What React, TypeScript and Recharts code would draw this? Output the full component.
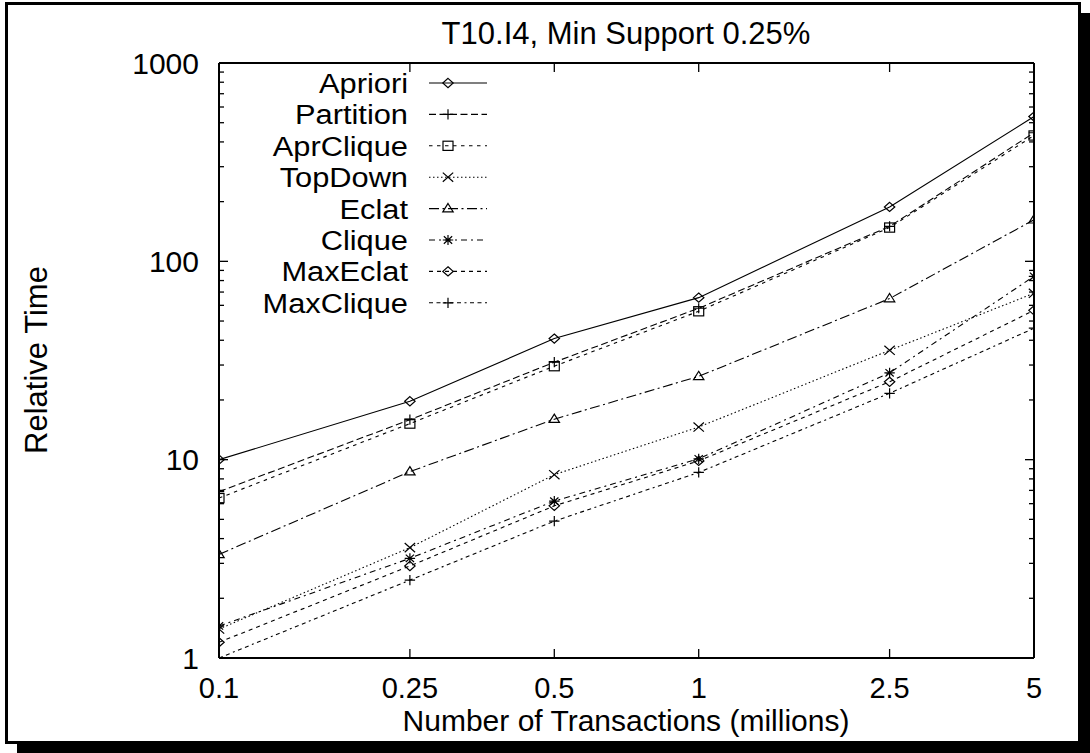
import React from 'react';
import { LineChart, Line, XAxis, YAxis } from 'recharts';

// Number of transactions (millions)
const TRANSACTIONS = [0.1, 0.25, 0.5, 1, 2.5, 5];

// Relative running time of each algorithm
const APRIORI = [10, 19.7, 40.8, 65.6, 188, 537];
const PARTITION = [6.9, 15.9, 31, 58, 150, 445];
const APR_CLIQUE = [6.4, 15.2, 29.6, 56, 148, 431];
const TOP_DOWN = [1.4, 3.6, 8.4, 14.6, 35.6, 69];
const ECLAT = [3.33, 8.7, 16.0, 26.3, 64.9, 162];
const CLIQUE = [1.45, 3.18, 6.18, 10.1, 27.4, 84];
const MAX_ECLAT = [1.2, 2.91, 5.85, 9.86, 24.7, 56.6];
const MAX_CLIQUE = [1.0, 2.47, 4.9, 8.62, 21.6, 46];

const X_TICKS = [0.1, 0.25, 0.5, 1, 2.5, 5];
const X_TICK_LABELS = ['0.1', '0.25', '0.5', '1', '2.5', '5'];
const Y_MAJOR = [1, 10, 100, 1000];
const Y_MAJOR_LABELS = ['1', '10', '100', '1000'];

const TITLE = 'T10.I4, Min Support 0.25%';
const X_LABEL = 'Number of Transactions (millions)';
const Y_LABEL = 'Relative Time';

type Shape = 'diamond' | 'plus' | 'square' | 'cross' | 'triangle' | 'star';

const SERIES: { name: string; values: number[]; dash?: string; shape: Shape }[] = [
  { name: 'Apriori', values: APRIORI, dash: undefined, shape: 'diamond' },
  { name: 'Partition', values: PARTITION, dash: '7 3.5', shape: 'plus' },
  { name: 'AprClique', values: APR_CLIQUE, dash: '3.5 4.5', shape: 'square' },
  { name: 'TopDown', values: TOP_DOWN, dash: '1.5 2.5', shape: 'cross' },
  { name: 'Eclat', values: ECLAT, dash: '10 3.5 2 3.5', shape: 'triangle' },
  { name: 'Clique', values: CLIQUE, dash: '6 4 2 4', shape: 'star' },
  { name: 'MaxEclat', values: MAX_ECLAT, dash: '4 4', shape: 'diamond' },
  { name: 'MaxClique', values: MAX_CLIQUE, dash: '4 3.5 4 3.5 2 3.5', shape: 'plus' },
];

// minor log ticks 1..9 per decade plus the top of the range
const Y_TICKS: number[] = [];
[1, 10, 100].forEach((d) => {
  for (let k = 1; k < 10; k++) Y_TICKS.push(d * k);
});
Y_TICKS.push(1000);

const rows = TRANSACTIONS.map((x, i) => {
  const r: Record<string, number> = { x };
  SERIES.forEach((s) => {
    r[s.name] = s.values[i];
  });
  return r;
});

const FONT = '"Liberation Sans", Arial, Helvetica, sans-serif';
const INK = '#000';

function Marker({ shape, cx, cy }: { shape: Shape; cx: number; cy: number }) {
  const sx = 5.2;
  const sy = 4.6;
  const common = { fill: 'none', stroke: INK, strokeWidth: 1.2 };
  switch (shape) {
    case 'diamond':
      return <path d={`M${cx} ${cy - sy}L${cx + sx} ${cy}L${cx} ${cy + sy}L${cx - sx} ${cy}Z`} {...common} />;
    case 'plus':
      return <path d={`M${cx - sx} ${cy}H${cx + sx}M${cx} ${cy - sy - 0.5}V${cy + sy + 0.5}`} {...common} />;
    case 'square':
      return <rect x={cx - 5} y={cy - 4.6} width={10} height={9.2} {...common} />;
    case 'cross':
      return <path d={`M${cx - sx} ${cy - sy}L${cx + sx} ${cy + sy}M${cx + sx} ${cy - sy}L${cx - sx} ${cy + sy}`} {...common} />;
    case 'triangle':
      return <path d={`M${cx} ${cy - sy - 0.5}L${cx + sx} ${cy + sy * 0.7}L${cx - sx} ${cy + sy * 0.7}Z`} {...common} />;
    case 'star':
      return (
        <path
          d={`M${cx - sx} ${cy}H${cx + sx}M${cx} ${cy - sy - 0.5}V${cy + sy + 0.5}M${cx - sx * 0.8} ${cy - sy * 0.8}L${cx + sx * 0.8} ${cy + sy * 0.8}M${cx + sx * 0.8} ${cy - sy * 0.8}L${cx - sx * 0.8} ${cy + sy * 0.8}`}
          {...common}
        />
      );
  }
  return null;
}

function XTick(props: any) {
  const { x, y, payload, side } = props;
  const idx = X_TICKS.indexOf(payload.value);
  if (side === 'top') {
    return <line x1={x} x2={x} y1={y} y2={y + 9} stroke={INK} strokeWidth={1.3} />;
  }
  return (
    <g>
      <line x1={x} x2={x} y1={y} y2={y - 9} stroke={INK} strokeWidth={1.3} />
      <text x={x} y={y + 39.5} textAnchor="middle" fontFamily={FONT} fontSize={29} fill={INK}>
        {idx >= 0 ? X_TICK_LABELS[idx] : ''}
      </text>
    </g>
  );
}

function YTick(props: any) {
  const { x, y, payload, side } = props;
  const majorIdx = Y_MAJOR.indexOf(payload.value);
  const len = majorIdx >= 0 ? 9 : 5;
  if (side === 'right') {
    return <line x1={x} x2={x - len} y1={y} y2={y} stroke={INK} strokeWidth={1.3} />;
  }
  return (
    <g>
      <line x1={x} x2={x + len} y1={y} y2={y} stroke={INK} strokeWidth={1.3} />
      {majorIdx >= 0 && (
        <text x={x - 20} y={y + 10.5} textAnchor="end" fontFamily={FONT} fontSize={30} fill={INK}>
          {Y_MAJOR_LABELS[majorIdx]}
        </text>
      )}
    </g>
  );
}

const axisLine = { stroke: INK, strokeWidth: 2 };

export default function App() {
  return (
    <div style={{ position: 'absolute', left: 0, top: 0, width: 1090, height: 753, background: '#fff', overflow: 'hidden' }}>
      {/* page frame with drop shadow */}
      <svg width={1090} height={753} style={{ position: 'absolute', left: 0, top: 0 }}>
        <rect x={17} y={13} width={1073} height={740} fill={INK} />
        <rect x={6.5} y={3.5} width={1073} height={739} fill="#fff" stroke={INK} strokeWidth={3} />
      </svg>

      <div style={{ position: 'absolute', left: 0, top: 0 }}>
        <LineChart width={1090} height={753} data={rows} margin={{ top: 0, right: 0, bottom: 0, left: 0 }}>
          <XAxis
            xAxisId="bottom"
            dataKey="x"
            type="number"
            scale="log"
            domain={[0.1, 5]}
            allowDataOverflow
            ticks={X_TICKS}
            interval={0}
            orientation="bottom"
            height={95}
            tickSize={0}
            tickMargin={0}
            tick={<XTick side="bottom" />}
            axisLine={axisLine}
          />
          <XAxis
            xAxisId="top"
            dataKey="x"
            type="number"
            scale="log"
            domain={[0.1, 5]}
            allowDataOverflow
            ticks={X_TICKS}
            interval={0}
            orientation="top"
            height={63}
            tickSize={0}
            tickMargin={0}
            tick={<XTick side="top" />}
            axisLine={axisLine}
          />
          <YAxis
            yAxisId="left"
            type="number"
            scale="log"
            domain={[1, 1000]}
            allowDataOverflow
            ticks={Y_TICKS}
            interval={0}
            orientation="left"
            width={219}
            tickSize={0}
            tickMargin={0}
            tick={<YTick side="left" />}
            axisLine={axisLine}
          />
          <YAxis
            yAxisId="right"
            type="number"
            scale="log"
            domain={[1, 1000]}
            allowDataOverflow
            ticks={Y_TICKS}
            interval={0}
            orientation="right"
            width={56}
            tickSize={0}
            tickMargin={0}
            tick={<YTick side="right" />}
            axisLine={axisLine}
          />
          {SERIES.map((s) => (
            <Line
              key={s.name}
              xAxisId="bottom"
              yAxisId="left"
              dataKey={s.name}
              type="linear"
              stroke={INK}
              strokeWidth={1.1}
              strokeDasharray={s.dash}
              isAnimationActive={false}
              dot={(p: any) => <Marker key={`${s.name}-${p.index}`} shape={s.shape} cx={p.cx} cy={p.cy} />}
              activeDot={false}
            />
          ))}
        </LineChart>
      </div>

      {/* title, axis titles and key */}
      <svg width={1090} height={753} style={{ position: 'absolute', left: 0, top: 0, pointerEvents: 'none' }}>
        <text x={626} y={44} textAnchor="middle" fontFamily={FONT} fontSize={31} fill={INK}>
          {TITLE}
        </text>
        <text x={626} y={731} textAnchor="middle" fontFamily={FONT} fontSize={30} fill={INK}>
          {X_LABEL}
        </text>
        <text transform="translate(47,360) rotate(-90)" textAnchor="middle" fontFamily={FONT} fontSize={31} fill={INK}>
          {Y_LABEL}
        </text>
        {SERIES.map((s, i) => {
          const y = 83 + 31.4 * i;
          return (
            <g key={s.name}>
              <text
                transform={`translate(408 ${y + 10}) scale(1.1 1)`}
                x={0}
                y={0}
                textAnchor="end"
                fontFamily={FONT}
                fontSize={28}
                fill={INK}
              >
                {s.name}
              </text>
              <line x1={429} x2={487} y1={y} y2={y} stroke={INK} strokeWidth={1.1} strokeDasharray={s.dash} />
              <Marker shape={s.shape} cx={448} cy={y} />
            </g>
          );
        })}
      </svg>
    </div>
  );
}
